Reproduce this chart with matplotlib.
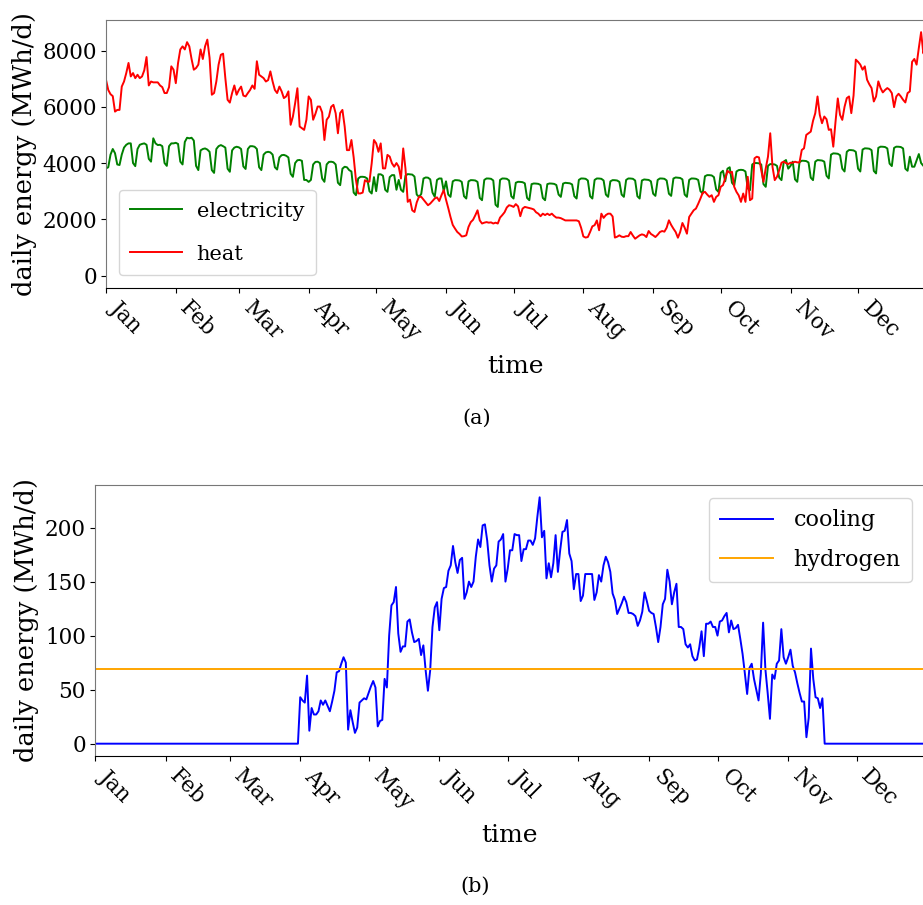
import numpy as np
import pandas as pd
import matplotlib
matplotlib.use("Agg")
import matplotlib.pyplot as plt
import matplotlib.dates as mdates

plt.rcParams["font.family"] = "DejaVu Serif"

# ---------------------------------------------------------------------------
# Daily values (2018, one value per day)
# ---------------------------------------------------------------------------
days = pd.date_range("2018-01-01", "2018-12-31", freq="D")

# electricity, one row per week (Mon..Sun)
electricity = [
    3810, 3850, 4300, 4500, 4350, 3950, 3930,
    4300, 4550, 4650, 4700, 4700, 4000, 3890,
    4500, 4650, 4680, 4700, 4650, 4150, 4050,
    4880, 4700, 4640, 4650, 4600, 4000, 3900,
    4600, 4700, 4700, 4720, 4680, 4050, 3950,
    4750, 4900, 4880, 4900, 4800, 3900, 3750,
    4450, 4500, 4520, 4480, 4400, 3750, 3650,
    4500, 4600, 4640, 4600, 4550, 3800, 3690,
    4450, 4550, 4580, 4560, 4500, 3880, 3790,
    4500, 4600, 4600, 4580, 4500, 3850, 3750,
    4300, 4380, 4400, 4380, 4300, 3850, 3770,
    4200, 4280, 4290, 4260, 4200, 3620, 3510,
    4000, 4100, 4110, 4080, 3400, 3400, 3330,
    3400, 3950, 4040, 4048, 4000, 3450, 3333,
    3950, 4040, 4048, 4030, 3950, 3300, 3214,
    3800, 3869, 3850, 3750, 3700, 2950, 2857,
    3450, 3510, 3512, 3500, 3450, 3000, 2917,
    3500, 3000, 3600, 3600, 3550, 3050, 2976,
    3500, 3571, 3570, 3050, 3400, 3050, 2976,
    3550, 3607, 3600, 3590, 3520, 2880, 2798,
    2900, 3450, 3488, 3480, 3420, 2950, 2800,
    3400, 3452, 3450, 3000, 3350, 2880, 2798,
    3350, 3393, 3390, 3380, 3330, 2820, 2738,
    3350, 3393, 3390, 3380, 3330, 2760, 2679,
    3400, 3452, 3450, 3440, 3380, 2520, 2440,
    3400, 3452, 3450, 3440, 3380, 2820, 2738,
    3300, 3333, 3330, 3320, 3280, 2760, 2679,
    3250, 3274, 3270, 3260, 3220, 2760, 2679,
    3250, 3274, 3270, 3260, 3220, 2880, 2798,
    3270, 3298, 3290, 3280, 3240, 2820, 2738,
    3400, 3452, 3450, 3440, 3380, 2820, 2738,
    3400, 3452, 3450, 3440, 3380, 2880, 2798,
    3350, 3393, 3390, 3380, 3330, 2880, 2798,
    3400, 3452, 3450, 3440, 3380, 2820, 2738,
    3380, 3417, 3410, 3400, 3350, 2910, 2833,
    3400, 3452, 3450, 3440, 3380, 2910, 2833,
    3450, 3488, 3480, 3470, 3420, 2880, 2798,
    3400, 3452, 3450, 3440, 3400, 3000, 2917,
    3530, 3571, 3570, 3560, 3500, 3060, 2976,
    3650, 3726, 3350, 3800, 3850, 3300, 3200,
    3700, 3750, 3760, 3750, 3700, 3100, 3036,
    3950, 4000, 4000, 3990, 3950, 3250, 3155,
    3900, 3964, 3960, 3950, 3900, 3480, 3393,
    4050, 4107, 3800, 3900, 4050, 3420, 3333,
    4030, 4083, 4080, 4070, 4020, 3480, 3393,
    4050, 4107, 4100, 4090, 4050, 3550, 3452,
    4300, 4345, 4340, 4330, 4280, 3800, 3700,
    4400, 4464, 4460, 4450, 4400, 3800, 3700,
    4480, 4524, 4520, 4510, 4460, 3720, 3631,
    4540, 4583, 4580, 4570, 4520, 3980, 3893,
    4540, 4583, 4580, 4570, 4520, 3800, 3726,
    4226, 3870, 3870, 4100, 4320, 4000, 3900,
    4226,
]

# heat, one row per month
heat = [
    6960, 6600, 6450, 6380, 5830, 5890, 5890, 6720, 6900, 7200, 7560, 7080, 7200, 7020, 7140, 7020,
    7080, 7300, 7770, 6760, 6900, 6870, 6870, 6870, 6760, 6700, 6490, 6490, 6700, 7440, 7320,
    6840, 7560, 8040, 8150, 8040, 8300, 8150, 7700, 7320, 7380, 7500, 8040, 7700, 8150,
    8390, 7740, 6430, 6490, 6900, 7500, 7850, 7890, 7020, 6250, 6150, 6490, 6760, 6430,
    6600, 6720, 6400, 6370, 6490, 6600, 6760, 6640, 7620, 7140, 7080, 7020, 6900, 6950, 7260, 6900,
    6600, 6490, 6720, 6550, 6310, 6370, 6550, 5360, 5650, 6130, 6660, 5300, 5240, 5180, 5540,
    6370, 6250, 5540, 5750, 6010, 6010, 5800, 4820, 5540, 5650, 6000, 6070, 5770, 5060, 5780,
    5890, 5300, 4460, 4460, 4820, 4200, 3400, 2920, 2920, 2950, 3390, 3340, 3340, 3990, 4820,
    4700, 4400, 4700, 3810, 3810, 4290, 4230, 3990, 3870, 4000, 3870, 3450, 4520, 3800, 2620, 2700,
    2320, 2260, 2600, 2800, 2800, 2700, 2600, 2500, 2560, 2650, 2740, 2780, 2650, 2860, 3040,
    2700, 2400, 2080, 1800, 1670, 1550, 1480, 1390, 1400, 1430, 1730, 1900, 1980, 2140, 2320,
    1960, 1850, 1880, 1900, 1880, 1890, 1850, 1880, 1850, 2060, 2150, 2250, 2420, 2500, 2480,
    2440, 2540, 2460, 2110, 2380, 2440, 2420, 2400, 2380, 2350, 2250, 2200, 2110, 2200, 2150, 2200,
    2150, 2200, 2120, 2060, 2060, 2040, 2000, 1960, 1960, 1960, 1960, 1960, 1960, 1930, 1700,
    1390, 1350, 1370, 1550, 1750, 1790, 1960, 1610, 2200, 2050, 2150, 2200, 2200, 2100, 1350, 1380,
    1430, 1380, 1370, 1400, 1400, 1548, 1420, 1310, 1370, 1429, 1464, 1440, 1369, 1583, 1480,
    1429, 1369, 1450, 1548, 1583, 1560, 1700, 1964, 1800, 1667, 1548, 1345, 1548, 1869, 1700,
    1488, 2083, 2200, 2321, 2381, 2550, 2738, 2940, 2976, 2880, 2798, 2857, 2619, 2798, 2857,
    3155, 3214, 3452, 3726, 3655, 3690, 3155, 2976, 2850, 2619, 2917, 2619, 3512, 2679, 2738, 4167,
    4226, 4200, 3750, 3333, 3810, 4226, 5060, 3869, 3393, 3512, 3750, 4012, 4048, 4000, 3964,
    4012, 4012, 4048, 4024, 4024, 4464, 4524, 5000, 5060, 5119, 5500, 5774, 6369, 5714, 5417,
    5655, 5560, 5179, 5202, 4583, 5476, 6298, 5714, 5536, 6000, 6310, 6369, 5774, 6400, 7679,
    7600, 7500, 7321, 7440, 6964, 6800, 6667, 6190, 6369, 6905, 6667, 6512, 6600, 6667, 6607, 6488,
    5988, 6369, 6464, 6369, 6250, 6155, 6488, 6548, 7600, 7702, 7500, 8100, 8655, 7900, 8200,
]

# cooling, one row per month
cooling = [
    0, 0, 0, 0, 0, 0, 0, 0, 0, 0, 0, 0, 0, 0, 0, 0, 0, 0, 0, 0, 0, 0, 0, 0, 0, 0, 0, 0, 0, 0, 0,
    0, 0, 0, 0, 0, 0, 0, 0, 0, 0, 0, 0, 0, 0, 0, 0, 0, 0, 0, 0, 0, 0, 0, 0, 0, 0, 0, 0,
    0, 0, 0, 0, 0, 0, 0, 0, 0, 0, 0, 0, 0, 0, 0, 0, 0, 0, 0, 0, 0, 0, 0, 0, 0, 0, 0, 0, 0, 0, 0,
    43, 40, 38, 63, 12, 33, 27, 27, 30, 40, 36, 40, 35, 30, 39, 49, 66, 67, 74, 80, 75, 13, 31, 20,
    10, 15, 38, 40, 42, 41,
    47, 53, 58, 52, 16, 21, 22, 60, 52, 100, 128, 131, 145, 102, 85, 90, 90, 113, 115, 103, 94, 95,
    97, 82, 91, 68, 49, 68, 108, 126, 131,
    105, 134, 144, 145, 160, 165, 183, 168, 158, 170, 172, 134, 140, 150, 145, 150, 173, 189, 182,
    202, 203, 188, 165, 150, 162, 165, 187, 189, 194, 150,
    162, 179, 179, 194, 193, 193, 169, 180, 180, 188, 188, 184, 190, 210, 228, 191, 197, 153, 167,
    154, 167, 193, 159, 179, 196, 197, 207, 176, 169, 143, 157,
    157, 132, 137, 157, 157, 157, 157, 133, 140, 156, 150, 165, 173, 168, 159, 139, 133, 120, 125,
    130, 136, 131, 121, 121, 120, 118, 109, 114, 122, 140, 132,
    123, 121, 120, 108, 94, 108, 129, 134, 161, 150, 129, 140, 148, 108, 108, 106, 92, 89, 92, 81,
    77, 78, 89, 104, 81, 111, 111, 113, 108, 108,
    100, 113, 114, 118, 121, 103, 114, 106, 107, 110, 97, 83, 65, 46, 70, 74, 60, 50, 40, 65, 112,
    69, 47, 23, 64, 60, 74, 77, 106, 80, 74,
    80, 87, 72, 66, 56, 47, 39, 39, 6, 24, 88, 60, 43, 42, 33, 42, 0, 0, 0, 0, 0, 0, 0, 0, 0, 0,
    0, 0, 0, 0,
    0, 0, 0, 0, 0, 0, 0, 0, 0, 0, 0, 0, 0, 0, 0, 0, 0, 0, 0, 0, 0, 0, 0, 0, 0, 0, 0, 0, 0, 0, 0,
]

hydrogen = 68.8  # constant daily demand

# the series start from zero at midnight of Jan 1
t = days.insert(0, days[0])


def with_start(values):
    return np.r_[0.0, np.asarray(values, dtype=float)]


# ---------------------------------------------------------------------------
# Figure
# ---------------------------------------------------------------------------
W, H = 923, 905
fig = plt.figure(figsize=(W / 100, H / 100), dpi=100)
ax1 = fig.add_axes([106 / W, 1 - 287.7 / H, (925.6 - 106) / W, (287.7 - 20) / H])
ax2 = fig.add_axes([95 / W, 1 - 756 / H, (925 - 95) / W, (756 - 485) / H])

ax1.plot(t, with_start(electricity), color="green", lw=1.4, label="electricity")
ax1.plot(t, with_start(heat), color="red", lw=1.4, label="heat")
ax1.legend(loc="lower left", fontsize=15, handlelength=2.5, handletextpad=0.7,
           labelspacing=1.15, borderpad=0.55, borderaxespad=0.6)

ax2.plot(t, with_start(cooling), color="blue", lw=1.4, label="cooling")
ax2.plot(t, with_start(np.full(len(days), hydrogen)), color="orange", lw=1.4,
         label="hydrogen")
ax2.legend(loc="upper right", fontsize=16, handlelength=2.4, handletextpad=0.9,
           labelspacing=0.8, borderpad=0.5, borderaxespad=0.6)

for ax in (ax1, ax2):
    ax.set_xlim(days[0], days[-1])
    ax.xaxis.set_major_locator(mdates.MonthLocator())
    ax.xaxis.set_major_formatter(mdates.DateFormatter("%b"))
    ax.tick_params(labelsize=15.5, pad=3)
    for lab in ax.get_xticklabels():
        lab.set_rotation(-45)
        lab.set_ha("left")
        lab.set_va("top")
    ax.set_xlabel("time", fontsize=18, labelpad=7)
    ax.set_ylabel("daily energy (MWh/d)", fontsize=18.5)
    ax.spines["left"].set_color("#777777")
    ax.spines["top"].set_color("#777777")
    ax.spines["right"].set_visible(False)

ax1.set_yticks([0, 2000, 4000, 6000, 8000])
ax2.set_yticks([0, 50, 100, 150, 200])

fig.text(477 / W, 1 - 418 / H, "(a)", ha="center", va="center", fontsize=15)
fig.text(475 / W, 1 - 886 / H, "(b)", ha="center", va="center", fontsize=15)

fig.savefig("out.png", dpi=100)
